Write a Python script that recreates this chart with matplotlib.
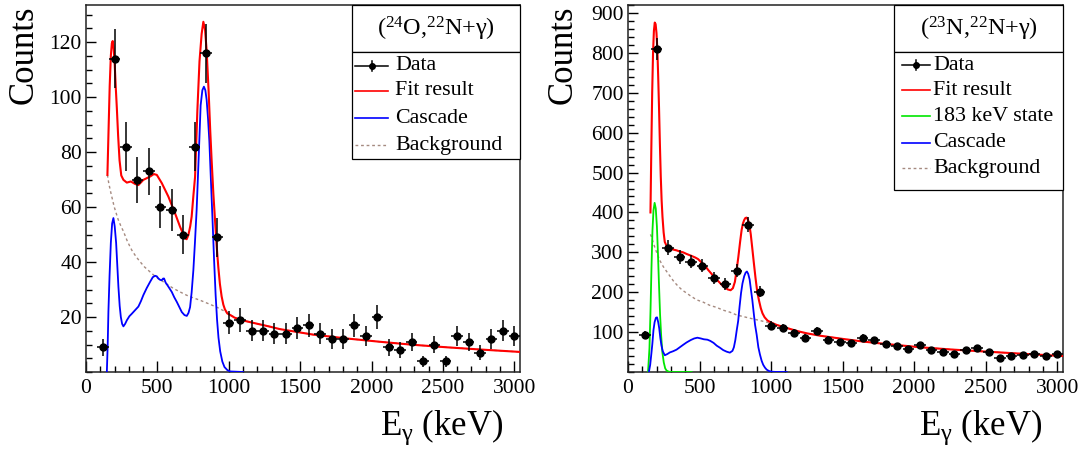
import numpy as np
import matplotlib
matplotlib.use("Agg")
import matplotlib.pyplot as plt
from matplotlib.patches import Rectangle
from matplotlib.ticker import FixedLocator, MultipleLocator

plt.rcParams["font.family"] = ["Liberation Serif", "DejaVu Serif"]
plt.rcParams["mathtext.fontset"] = "custom"
plt.rcParams["mathtext.rm"] = "Liberation Serif"
plt.rcParams["mathtext.it"] = "Liberation Serif:italic"
plt.rcParams["mathtext.bf"] = "Liberation Serif:bold"

# bin centres (keV), 80 keV bins
energy = [120, 200, 280, 360, 440, 520, 600, 680, 760, 840, 920, 1000, 1080,
          1160, 1240, 1320, 1400, 1480, 1560, 1640, 1720, 1800, 1880, 1960,
          2040, 2120, 2200, 2280, 2360, 2440, 2520, 2600, 2680, 2760, 2840,
          2920, 3000]

counts_o24 = [9, 114, 82, 70, 73, 60, 59, 50, 82, 116, 49, 18, 19, 15, 15, 14,
              14, 16, 17, 14, 12, 12, 17, 13, 20, 9, 8, 11, 4, 10, 4, 13, 11,
              7, 12, 15, 13]

counts_n23 = [94, 810, 312, 288, 277, 266, 235, 220, 254, 369, 201, 116, 111,
              97, 86, 103, 81, 75, 72, 86, 79, 69, 64, 57, 67, 54, 50, 45, 56,
              59, 51, 35, 40, 42, 44, 40, 46]

# fitted curves (keV / counts)
fit_o24_x = [150, 158, 166, 174, 181, 187, 194, 201, 208, 216, 225, 235, 247,
             262, 286, 314, 344, 367, 402, 449, 475, 496, 531, 577, 624, 659,
             694, 705, 717, 730, 740, 752, 764, 780, 795, 810, 822, 834, 845,
             859, 870, 880, 892, 904, 915, 927, 938, 950, 962, 973, 990, 1008,
             1040, 1078, 1195, 1288, 1358, 1591, 1825, 2058, 2290, 2523, 2756,
             3040]
fit_o24_y = [71.7, 88, 104, 115, 119.5, 120.4, 117.5, 112, 104, 96, 86, 77,
             71.5, 69.9, 68.9, 69.3, 68.4, 68.0, 69.9, 71.1, 72.0, 71.7, 68.7,
             63.8, 57.7, 52.8, 48.6, 48.3, 49.8, 53, 56.5, 64, 71, 95, 113,
             123, 127.4, 124.5, 117, 102, 88, 77, 65, 55, 46, 38, 32, 27.5,
             24.5, 22.8, 21.3, 20.8, 19.8, 19.0, 17.6, 16.5, 15.6, 13.6, 12.2,
             11.0, 9.9, 9.0, 8.2, 7.3]

casc_o24_x = [146, 152, 157, 165, 174, 183, 192, 201, 211, 219, 227, 236, 244,
              253, 262, 274, 286, 304, 321, 344, 367, 385, 402, 425, 449, 468,
              484, 496, 507, 520, 531, 540, 547, 558, 570, 585, 601, 618, 636,
              654, 671, 690, 706, 718, 729, 740, 752, 763, 775, 787, 803, 815,
              826, 836, 845, 855, 864, 874, 885, 897, 908, 918, 928, 940, 955,
              970, 990, 1010, 1100]
casc_o24_y = [0, 10, 22, 35, 47, 54, 56, 53, 47, 39, 31, 24, 20, 17.5, 16.6,
              17.5, 18.8, 20.3, 21.2, 22.5, 23.8, 25.8, 28.0, 30.5, 32.8, 34.5,
              35.0, 34.8, 34.0, 33.5, 33.4, 34.0, 34.0, 32.5, 31.6, 30.4, 29.1,
              27.2, 25.5, 23.6, 21.8, 20.7, 20.4, 21.5, 23.6, 29, 37, 47, 59,
              75, 97, 102.5, 103.8, 102.5, 99, 92, 84, 71, 57, 41, 28, 19,
              12.5, 7.5, 3.8, 1.8, 0.7, 0.2, 0]

bkg_o24_x = [150, 160, 175, 198, 225, 245, 262, 290, 321, 350, 379, 410, 449,
             480, 519, 565, 612, 660, 706, 750, 799, 860, 915, 960, 1008, 1078,
             1195, 1288, 1358, 1591, 1825, 2058, 2290, 2523, 2756, 3040]
bkg_o24_y = [71.7, 68.5, 65, 60, 55.5, 53, 51.2, 47.5, 44.3, 42, 40.1, 38.2,
             36.4, 35, 33.6, 32, 30.4, 29.1, 27.9, 27, 26.1, 24.8, 23.6, 22.4,
             20.8, 19.0, 17.6, 16.5, 15.6, 13.6, 12.2, 11.0, 9.9, 9.0, 8.2, 7.3]

fit_n23_x = [157, 163, 169, 175, 181, 187, 193, 199, 205, 211, 217, 223, 229,
             235, 241, 249, 257, 270, 292, 315, 339, 362, 385, 409, 444, 470,
             490, 515, 537, 560, 584, 607, 630, 654, 677, 697, 717, 733, 747,
             759, 771, 783, 794, 803, 812, 820, 829, 838, 847, 858, 868, 879,
             891, 903, 915, 928, 940, 955, 975, 1000, 1039, 1085, 1132, 1190,
             1249, 1342, 1500, 1650, 1809, 2043, 2276, 2509, 2743, 3040]
fit_n23_y = [400, 560, 700, 800, 855, 876, 872, 850, 810, 740, 660, 570, 490,
             430, 389, 350, 326, 316, 311, 307, 305, 302, 300, 296, 291, 287,
             283, 274, 267, 256, 246, 236, 228, 219, 212, 207, 205, 210, 226,
             255, 288, 325, 356, 372, 381, 386, 387, 382, 372, 345, 312, 275,
             236, 202, 180, 160, 147, 137, 129, 124, 118, 113, 108, 102, 97,
             91, 83, 76, 70, 62, 56, 51, 46, 40]

state_n23_x = [140, 150, 157, 164, 171, 178, 186, 194, 202, 209, 216, 224,
               232, 240, 250, 260, 270, 285, 300, 444]
state_n23_y = [0, 60, 150, 260, 355, 405, 424, 410, 365, 300, 225, 145, 90,
               50, 24, 9, 3.5, 0.8, 0, 0]

casc_n23_x = [146, 155, 163, 170, 178, 186, 195, 203, 211, 218, 226, 234, 243,
              257, 275, 292, 315, 339, 362, 385, 409, 438, 462, 485, 510, 530,
              555, 575, 598, 620, 642, 665, 689, 712, 730, 740, 750, 760, 770,
              780, 790, 800, 812, 822, 831, 840, 850, 860, 869, 878, 888, 899,
              911, 922, 934, 945, 957, 969, 985, 1004, 1030, 1109]
casc_n23_y = [0, 18, 45, 70, 105, 125, 136, 137, 125, 110, 85, 66, 52, 42, 45,
              49, 52, 56, 62, 68, 74, 80, 84, 86, 84, 82, 81, 78, 73, 66, 61,
              55, 51, 48.5, 53, 62, 80, 105, 128, 165, 198, 222, 240, 249, 252,
              246, 232, 204, 180, 150, 118, 94, 62, 44, 28, 18, 11, 6, 2.5,
              0.8, 0.2, 0]

bkg_n23_x = [157, 164, 180, 199, 222, 245, 270, 292, 320, 350, 380, 409, 432,
             479, 526, 572, 619, 665, 712, 759, 805, 850, 899, 945, 992, 1039,
             1085, 1132, 1190, 1249, 1342, 1500, 1650, 1809, 2043, 2276, 2509,
             2743, 3040]
bkg_n23_y = [345, 339, 320, 301, 280, 265, 252, 241, 227, 215, 205, 198, 192,
             181, 175, 167, 162, 155, 150, 143, 139, 135, 131, 127, 123, 118,
             113, 108, 102, 97, 91, 83, 76, 70, 62, 56, 51, 46, 40]

RED = "#ff0000"
BLUE = "#0000ff"
GREEN = "#00e600"
BKG = "#a58a80"


def draw_panel(ax, counts, curves, ymax, yticks, yminor):
    y = np.array(counts, dtype=float)
    for xs, ys, color, ls, lw in curves:
        ax.plot(xs, ys, color=color, linestyle=ls, lw=lw, zorder=3)
    ax.errorbar(energy, y, xerr=40, yerr=np.sqrt(y), fmt="o", color="black",
                ms=5.0, elinewidth=1.1, capsize=0, zorder=5)
    ax.set_xlim(0, 3040)
    ax.set_ylim(0, ymax)
    ax.xaxis.set_major_locator(MultipleLocator(500))
    ax.xaxis.set_minor_locator(MultipleLocator(100))
    ax.yaxis.set_major_locator(FixedLocator(yticks))
    ax.yaxis.set_minor_locator(MultipleLocator(yminor))
    ax.tick_params(which="both", direction="in", top=False, right=False,
                   labelsize=15.5, width=1, color="black")
    ax.tick_params(axis="x", which="major", length=8, pad=5)
    ax.tick_params(axis="x", which="minor", length=4)
    ax.tick_params(axis="y", which="major", length=7, pad=3)
    ax.tick_params(axis="y", which="minor", length=4)
    for sp in ax.spines.values():
        sp.set_linewidth(1.1)
        sp.set_color("#222222")


def draw_legend(ax, title, entries, x0, y_div, y_bot, lx0, lx1, tx, ys):
    kw = dict(transform=ax.transAxes, clip_on=False)
    ax.add_patch(Rectangle((x0, y_div), 1 - x0, 1 - y_div, fc="white",
                           ec="black", lw=0.9, zorder=6, **kw))
    ax.add_patch(Rectangle((x0, y_bot), 1 - x0, y_div - y_bot, fc="white",
                           ec="black", lw=0.9, zorder=6, **kw))
    ax.text((x0 + 1) / 2, (1 + y_div) / 2, title, ha="center", va="center",
            fontsize=17.5, zorder=7, **kw)
    for (label, color, ls), yy in zip(entries, ys):
        if label == "Data":
            ax.plot([lx0, lx1], [yy, yy], color="black", lw=1.1, zorder=7, **kw)
            xm = (lx0 + lx1) / 2
            ax.plot([xm, xm], [yy - 0.014, yy + 0.014], color="black", lw=1.1,
                    zorder=7, **kw)
            ax.plot([xm], [yy], "o", color="black", ms=4, zorder=7, **kw)
        else:
            ax.plot([lx0, lx1], [yy, yy], color=color, linestyle=ls,
                    lw=1.2 if ls == "-" else 1.0, zorder=7, **kw)
        ax.text(tx, yy, label, ha="left", va="center", fontsize=15.8,
                zorder=7, **kw)


fig = plt.figure(figsize=(10.84, 4.5), dpi=100)
ax1 = fig.add_axes([86 / 1084, 78 / 450, 434 / 1084, 367 / 450])
ax2 = fig.add_axes([628 / 1084, 78 / 450, 435 / 1084, 367 / 450])

dots = (0, (2, 2))

draw_panel(ax1, counts_o24,
           [(bkg_o24_x, bkg_o24_y, BKG, dots, 1.0),
            (casc_o24_x, casc_o24_y, BLUE, "-", 1.3),
            (fit_o24_x, fit_o24_y, RED, "-", 1.5)],
           133.5, [20, 40, 60, 80, 100, 120], 5)

draw_panel(ax2, counts_n23,
           [(bkg_n23_x, bkg_n23_y, BKG, dots, 1.0),
            (state_n23_x, state_n23_y, GREEN, "-", 1.3),
            (casc_n23_x, casc_n23_y, BLUE, "-", 1.3),
            (fit_n23_x, fit_n23_y, RED, "-", 1.5)],
           920, [100, 200, 300, 400, 500, 600, 700, 800, 900], 20)

draw_legend(ax1, r"($^{24}$O,$^{22}$N+γ)",
            [("Data", "black", "-"), ("Fit result", RED, "-"),
             ("Cascade", BLUE, "-"), ("Background", BKG, dots)],
            0.6136, 0.872, 0.580, 0.620, 0.696, 0.712,
            [0.8346, 0.7665, 0.691, 0.6185])

draw_legend(ax2, r"($^{23}$N,$^{22}$N+γ)",
            [("Data", "black", "-"), ("Fit result", RED, "-"),
             ("183 keV state", GREEN, "-"), ("Cascade", BLUE, "-"),
             ("Background", BKG, dots)],
            0.6115, 0.872, 0.496, 0.631, 0.695, 0.701,
            [0.8365, 0.768, 0.6975, 0.625, 0.555])

for ax, xl, yl in [(ax1, 0.961, -0.143), (ax2, 0.953, -0.148)]:
    ax.text(xl, -0.172, r"E$_{\mathrm{γ}}$ (keV)", transform=ax.transAxes,
            ha="right", va="baseline", fontsize=25)
    ax.text(yl, 1.0, "Counts", transform=ax.transAxes, rotation=90,
            ha="center", va="top", fontsize=25)

fig.savefig("out.png", dpi=100)
